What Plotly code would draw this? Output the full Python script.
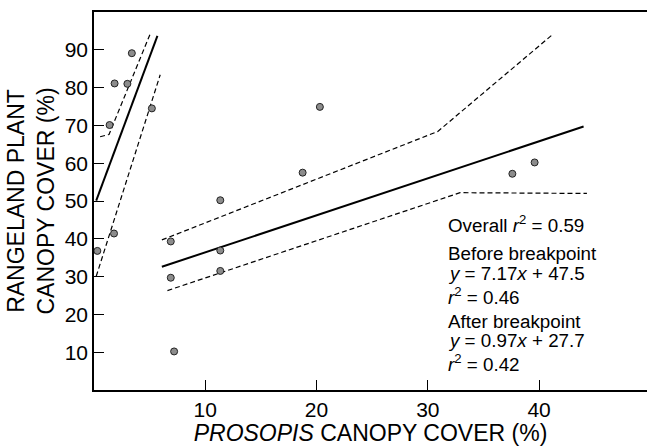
import plotly.graph_objects as go

# Observed points (Prosopis canopy cover %, rangeland plant canopy cover %)
x_pts = [0.3, 1.8, 1.4, 1.85, 3.0, 3.4, 5.2, 6.9, 6.9, 7.2, 11.35, 11.35, 11.35, 18.75, 20.3, 37.6, 39.6]
y_pts = [36.8, 41.4, 70.1, 81.1, 81.0, 89.1, 74.5, 39.3, 29.7, 10.2, 50.2, 36.9, 31.5, 57.5, 74.9, 57.2, 60.2]

# Regression before breakpoint
fit_before_x = [0.2, 5.7]
fit_before_y = [50.1, 93.7]
upper_before_x = [0.55, 1.35, 5.05]
upper_before_y = [67.0, 67.6, 94.2]
lower_before_x = [0.2, 5.95]
lower_before_y = [30.1, 83.4]

# Regression after breakpoint
fit_after_x = [6.1, 44.0]
fit_after_y = [32.6, 69.7]
upper_after_x = [6.1, 30.9, 41.2]
upper_after_y = [39.7, 68.4, 94.0]
lower_after_x = [6.6, 32.9, 44.3]
lower_after_y = [26.3, 52.2, 52.0]

x_ticks = [10, 20, 30, 40]
y_ticks = [10, 20, 30, 40, 50, 60, 70, 80, 90]

FONT = "Liberation Sans, Arial, sans-serif"

fig = go.Figure()

solid = dict(color="black", width=2)
dashed = dict(color="black", width=1.2, dash="5px,3px")

for xs, ys, ln in [
    (fit_before_x, fit_before_y, solid),
    (upper_before_x, upper_before_y, dashed),
    (lower_before_x, lower_before_y, dashed),
    (fit_after_x, fit_after_y, solid),
    (upper_after_x, upper_after_y, dashed),
    (lower_after_x, lower_after_y, dashed),
]:
    fig.add_trace(go.Scatter(x=xs, y=ys, mode="lines", line=ln,
                             showlegend=False, hoverinfo="skip"))

fig.add_trace(go.Scatter(
    x=x_pts, y=y_pts, mode="markers",
    marker=dict(size=7, color="#8c8c8c", line=dict(color="#222222", width=1)),
    showlegend=False, cliponaxis=False))

notes = [
    ("Overall <i>r</i><sup>2</sup> = 0.59", 43.85),
    ("Before breakpoint", 36.2),
    ("<i>y</i> = 7.17<i>x</i> + 47.5", 30.9),
    ("<i>r</i><sup>2</sup> = 0.46", 24.8),
    ("After breakpoint", 18.2),
    ("<i>y</i> = 0.97<i>x</i> + 27.7", 13.2),
    ("<i>r</i><sup>2</sup> = 0.42", 7.1),
]
for txt, yy in notes:
    fig.add_annotation(x=31.6, y=yy, xref="x", yref="y", text=txt,
                       showarrow=False, xanchor="left", yanchor="middle",
                       font=dict(family=FONT, size=18.8, color="black"))

fig.update_layout(
    width=647, height=446,
    margin=dict(l=94, r=0, t=12, b=56),
    paper_bgcolor="white", plot_bgcolor="white",
    font=dict(family=FONT, color="black"),
    showlegend=False,
)
fig.update_xaxes(
    range=[0, 49.7], tickvals=x_ticks, ticks="inside", ticklen=10, tickwidth=1.3,
    tickcolor="black", showline=True, linecolor="black", linewidth=1.5, mirror=True,
    showgrid=False, zeroline=False, tickfont=dict(size=21),
    title=dict(text="<i>PROSOPIS</i> CANOPY COVER (%)", font=dict(size=23), standoff=2),
)
fig.update_yaxes(
    range=[0, 100], tickvals=y_ticks, ticks="inside", ticklen=10, tickwidth=1.3,
    tickcolor="black", showline=True, linecolor="black", linewidth=1.5,
    showgrid=False, zeroline=False, tickfont=dict(size=21),
    title=dict(text="RANGELAND PLANT<br>CANOPY COVER (%)", font=dict(size=23), standoff=4),
)

fig.write_html("out.html", config={"displayModeBar": False},
               post_script="document.body.style.margin='0';document.body.style.overflow='hidden';")
